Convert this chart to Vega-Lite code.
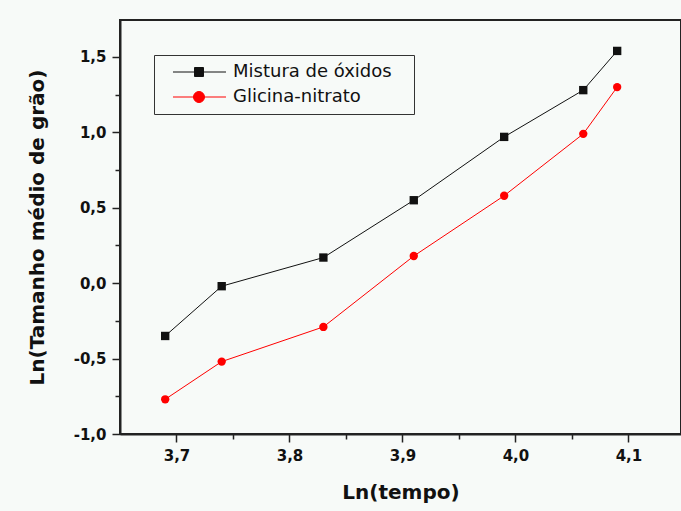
{
  "$schema": "https://vega.github.io/schema/vega-lite/v6.json",
  "width": 561,
  "height": 414,
  "autosize": {"type": "none"},
  "padding": {"left": 120, "top": 20, "right": 0, "bottom": 77},
  "background": "#f7faf8",
  "config": {
    "locale": {"number": {"decimal": ",", "thousands": ".", "grouping": [3], "currency": ["", ""], "minus": "-"}},
    "view": {"stroke": "#222", "strokeWidth": 2},
    "font": "DejaVu Sans"
  },
  "data": {
    "values": [
      {"serie": "Mistura de óxidos", "t": 3.69, "v": -0.35},
      {"serie": "Mistura de óxidos", "t": 3.74, "v": -0.02},
      {"serie": "Mistura de óxidos", "t": 3.83, "v": 0.17},
      {"serie": "Mistura de óxidos", "t": 3.91, "v": 0.55},
      {"serie": "Mistura de óxidos", "t": 3.99, "v": 0.97},
      {"serie": "Mistura de óxidos", "t": 4.06, "v": 1.28},
      {"serie": "Mistura de óxidos", "t": 4.09, "v": 1.54},
      {"serie": "Glicina-nitrato", "t": 3.69, "v": -0.77},
      {"serie": "Glicina-nitrato", "t": 3.74, "v": -0.52},
      {"serie": "Glicina-nitrato", "t": 3.83, "v": -0.29},
      {"serie": "Glicina-nitrato", "t": 3.91, "v": 0.18},
      {"serie": "Glicina-nitrato", "t": 3.99, "v": 0.58},
      {"serie": "Glicina-nitrato", "t": 4.06, "v": 0.99},
      {"serie": "Glicina-nitrato", "t": 4.09, "v": 1.30}
    ]
  },
  "encoding": {
    "x": {
      "field": "t", "type": "quantitative",
      "scale": {"domain": [3.65, 4.1465], "nice": false, "zero": false},
      "axis": {
        "values": [3.7, 3.75, 3.8, 3.85, 3.9, 3.95, 4.0, 4.05, 4.1],
        "format": ".1f",
        "labelExpr": "abs(datum.value*10 - round(datum.value*10)) < 0.001 ? datum.label : ''",
        "tickSize": {"condition": {"test": "abs(datum.value*10 - round(datum.value*10)) < 0.001", "value": 8}, "value": 5},
        "grid": false,
        "domainColor": "#222", "domainWidth": 2,
        "tickColor": "#222", "tickWidth": 1.5,
        "labelFont": "DejaVu Sans", "labelFontSize": 15, "labelFontWeight": "bold", "labelColor": "#111",
        "labelPadding": 6, "labelOverlap": false, "labelFlush": false,
        "title": "Ln(tempo)", "titleFont": "DejaVu Sans", "titleFontSize": 20, "titleFontWeight": "bold", "titleColor": "#111", "titlePadding": 19
      }
    },
    "y": {
      "field": "v", "type": "quantitative",
      "scale": {"domain": [-1, 1.745], "nice": false, "zero": false},
      "axis": {
        "values": [-1, -0.75, -0.5, -0.25, 0, 0.25, 0.5, 0.75, 1, 1.25, 1.5],
        "format": ".1f",
        "labelExpr": "abs(datum.value*2 - round(datum.value*2)) < 0.001 ? datum.label : ''",
        "tickSize": {"condition": {"test": "abs(datum.value*2 - round(datum.value*2)) < 0.001", "value": 8}, "value": 5},
        "grid": false,
        "domainColor": "#222", "domainWidth": 2,
        "tickColor": "#222", "tickWidth": 1.5,
        "labelFont": "DejaVu Sans", "labelFontSize": 15, "labelFontWeight": "bold", "labelColor": "#111",
        "labelPadding": 6, "labelOverlap": false, "labelFlush": false,
        "title": "Ln(Tamanho médio de grão)", "titleFont": "DejaVu Sans", "titleFontSize": 20, "titleFontWeight": "bold", "titleColor": "#111", "titlePadding": 26
      }
    },
    "color": {
      "field": "serie", "type": "nominal",
      "scale": {"domain": ["Mistura de óxidos", "Glicina-nitrato"], "range": ["#111111", "#ff0000"]},
      "legend": {
        "title": null, "orient": "none", "legendX": 34, "legendY": 35,
        "strokeColor": "#333", "fillColor": "#f7faf8", "padding": 8,
        "labelFontSize": 18, "labelFont": "DejaVu Sans", "labelColor": "#111",
        "symbolSize": 289, "symbolStrokeWidth": 1, "rowPadding": 7, "labelOffset": 53,
        "encode": {
          "symbols": {
            "update": {
              "shape": {"signal": "datum.value === 'Glicina-nitrato' ? 'M27.41,0M0.235,0H6.47M3.941,0A0.647,0.647,0,1,1,2.647,0A0.647,0.647,0,1,1,3.941,0Z' : 'M27.41,0M0.235,0H6.47M2.765,-0.529H3.823V0.529H2.765Z'"},
              "fill": {"signal": "scale('color', datum.value)"},
              "stroke": {"signal": "scale('color', datum.value)"},
              "strokeWidth": {"value": 1},
              "opacity": {"value": 1}
            }
          }
        }
      }
    }
  },
  "layer": [
    {"mark": {"type": "line", "strokeWidth": 1}},
    {
      "transform": [{"filter": "datum.serie === 'Mistura de óxidos'"}],
      "mark": {"type": "point", "shape": "square", "filled": true, "size": 70, "opacity": 1}
    },
    {
      "transform": [{"filter": "datum.serie === 'Glicina-nitrato'"}],
      "mark": {"type": "point", "shape": "circle", "filled": true, "size": 70, "opacity": 1}
    }
  ]
}
